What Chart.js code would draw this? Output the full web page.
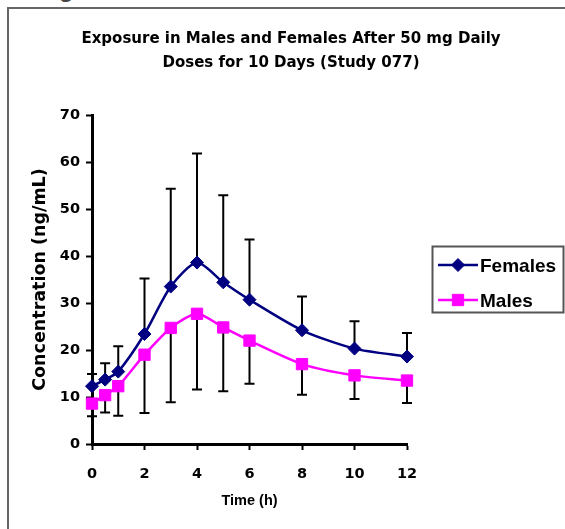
<!DOCTYPE html>
<html>
<head>
<meta charset="utf-8">
<script src="https://cdn.jsdelivr.net/npm/chart.js@4"></script>
<style>
  html, body { margin: 0; padding: 0; background: #fff; width: 565px; height: 529px; overflow: hidden; }
  #heading { position: absolute; left: 59px; top: -23px; font: bold 24px/24px "Liberation Sans", Arial, sans-serif; color: #444; }
  #frame { position: absolute; left: 7px; top: 7px; width: 700px; height: 700px; border-left: 2px solid #666; border-top: 2px solid #666; }
  #wrap { position: absolute; left: 0; top: 0; width: 565px; height: 529px; }
</style>
</head>
<body>
<div id="heading">g</div>
<div id="frame"></div>
<div id="wrap"><canvas id="chart" width="565" height="529"></canvas></div>
<script>
// Sampling times after dosing (h)
const timeHours = [0, 0.5, 1, 2, 3, 4, 5, 6, 8, 10, 12];

// Mean plasma concentration (ng/mL) and standard deviation
const femalesMean = [12.3, 13.7, 15.4, 23.4, 33.5, 38.6, 34.4, 30.7, 24.2, 20.3, 18.6];
const femalesSD   = [2.6, 3.5, 5.4, 11.8, 20.8, 23.2, 18.5, 12.8, 7.2, 5.8, 5.0];
const malesMean   = [8.6, 10.4, 12.3, 19.0, 24.7, 27.7, 24.8, 22.0, 17.0, 14.6, 13.5];
const malesSD     = [2.7, 3.7, 6.3, 12.4, 15.8, 16.1, 13.6, 9.2, 6.5, 5.0, 4.8];

const titleLines = ['Exposure in Males and Females After 50 mg Daily', 'Doses for 10 Days (Study 077)'];
const seriesNames = ['Females', 'Males'];

const toPoints = (ys) => timeHours.map((t, i) => ({ x: t, y: ys[i] }));

// One-sided SD bars: females upward, males downward
const errorBars = {
  id: 'errorBars',
  beforeDatasetsDraw(chart) {
    const { ctx, scales: { x, y } } = chart;
    ctx.save();
    ctx.strokeStyle = '#000';
    ctx.lineWidth = 2;
    chart.data.datasets.forEach((ds) => {
      ds.data.forEach((p, i) => {
        const px = x.getPixelForValue(p.x);
        const y0 = y.getPixelForValue(p.y);
        const y1 = y.getPixelForValue(p.y + ds.errorDir * ds.sd[i]);
        ctx.beginPath();
        ctx.moveTo(px, y0);
        ctx.lineTo(px, y1);
        ctx.moveTo(px - 5, y1);
        ctx.lineTo(px + 5, y1);
        ctx.stroke();
      });
    });
    ctx.restore();
  }
};

// Two-line heading and boxed legend with line + marker samples
const headingAndLegend = {
  id: 'headingAndLegend',
  afterDraw(chart) {
    const ctx = chart.ctx;
    ctx.save();
    ctx.fillStyle = '#000';
    ctx.textAlign = 'center';
    ctx.textBaseline = 'alphabetic';
    ctx.font = 'bold 15px "DejaVu Sans"';
    ctx.fillText(titleLines[0], 291, 42.5);
    ctx.fillText(titleLines[1], 291, 66.5);

    ctx.strokeStyle = '#555';
    ctx.lineWidth = 2;
    ctx.strokeRect(432.5, 246.5, 131, 66);

    chart.data.datasets.forEach((ds, i) => {
      const cy = 265 + i * 35;
      ctx.strokeStyle = ds.borderColor;
      ctx.lineWidth = ds.borderWidth;
      ctx.beginPath();
      ctx.moveTo(438, cy);
      ctx.lineTo(478, cy);
      ctx.stroke();
      ctx.fillStyle = ds.pointBackgroundColor;
      ctx.strokeStyle = ds.pointBorderColor;
      ctx.lineWidth = ds.pointBorderWidth;
      Chart.helpers.drawPoint(ctx, { pointStyle: ds.pointStyle, radius: ds.pointRadius, borderWidth: ds.pointBorderWidth }, 458, cy);
      ctx.fillStyle = '#000';
      ctx.textAlign = 'left';
      ctx.font = 'bold 19px "Liberation Sans"';
      ctx.fillText(ds.label, 480, cy + 6.5);
    });
    ctx.restore();
  }
};

const tickFont = { family: 'DejaVu Sans', weight: 'bold', size: 14.5 };

new Chart(document.getElementById('chart'), {
  type: 'line',
  data: {
    datasets: [
      {
        label: seriesNames[0],
        data: toPoints(femalesMean),
        sd: femalesSD,
        errorDir: 1,
        borderColor: '#000080',
        backgroundColor: '#000080',
        pointBackgroundColor: '#000080',
        pointBorderColor: '#000080',
        borderWidth: 2.5,
        pointStyle: 'rectRot',
        pointRadius: 6.5,
        pointBorderWidth: 1,
        tension: 0.25,
        clip: false
      },
      {
        label: seriesNames[1],
        data: toPoints(malesMean),
        sd: malesSD,
        errorDir: -1,
        borderColor: '#FF00FF',
        backgroundColor: '#FF00FF',
        pointBackgroundColor: '#FF00FF',
        pointBorderColor: '#FF00FF',
        borderWidth: 2.5,
        pointStyle: 'rect',
        pointRadius: 8,
        pointBorderWidth: 1,
        tension: 0.25,
        clip: false
      }
    ]
  },
  options: {
    responsive: false,
    animation: false,
    devicePixelRatio: 1,
    layout: { padding: { top: 115, right: 158, left: 0, bottom: 0 } },
    plugins: {
      legend: { display: false },
      title: { display: false },
      tooltip: { enabled: false }
    },
    scales: {
      x: {
        type: 'linear',
        min: 0,
        max: 12,
        afterFit(scale) { scale.height = 85; },
        ticks: { stepSize: 2, color: '#000', font: tickFont, padding: 16, maxRotation: 0 },
        grid: { drawOnChartArea: false, drawTicks: true, tickLength: 6, tickWidth: 2, tickColor: '#000' },
        border: { display: true, color: '#000', width: 3 },
        title: {
          display: true,
          text: 'Time (h)',
          color: '#000',
          font: { family: 'Liberation Sans', weight: 'bold', size: 14.5 },
          padding: { top: 0, bottom: 19 }
        }
      },
      y: {
        min: 0,
        max: 70,
        afterFit(scale) { scale.width = 92; },
        ticks: { stepSize: 10, color: '#000', font: tickFont, padding: 6 },
        grid: { drawOnChartArea: false, drawTicks: true, tickLength: 6, tickWidth: 2, tickColor: '#000' },
        border: { display: true, color: '#000', width: 3 },
        title: {
          display: true,
          text: 'Concentration (ng/mL)',
          color: '#000',
          font: { family: 'DejaVu Sans', weight: 'bold', size: 17.5 },
          padding: { top: 30, bottom: 0 }
        }
      }
    }
  },
  plugins: [errorBars, headingAndLegend]
});
</script>
</body>
</html>
